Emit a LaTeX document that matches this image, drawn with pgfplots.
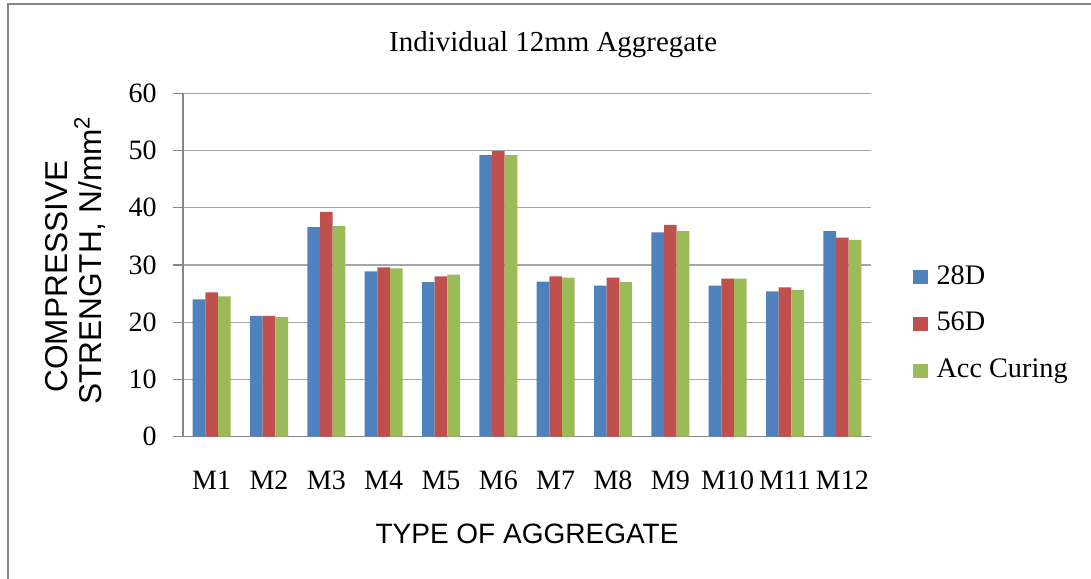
\documentclass[border=0pt]{standalone}
\usepackage{fontspec}
\setmainfont{Liberation Serif}
\setsansfont{Liberation Sans}
\usepackage{pgfplots}
\pgfplotsset{compat=1.18}
\usepackage{pgfplotstable}

\definecolor{ser1}{HTML}{4F81BD}
\definecolor{ser2}{HTML}{C0504D}
\definecolor{ser3}{HTML}{9BBB59}
\definecolor{gridc}{HTML}{A6A6A6}
\definecolor{framec}{HTML}{868686}

% values (N/mm^2)
\pgfplotstableread{
x  d28  d56  acc
1  24.0 25.2 24.5
2  21.1 21.1 20.9
3  36.6 39.3 36.8
4  28.9 29.6 29.4
5  27.0 28.0 28.3
6  49.2 49.9 49.2
7  27.1 28.0 27.8
8  26.4 27.8 27.0
9  35.7 37.0 35.9
10 26.4 27.6 27.6
11 25.4 26.1 25.6
12 35.9 34.8 34.4
}\strength

\begin{document}
\begin{tikzpicture}
\useasboundingbox (0,0) rectangle (818.25pt,433.5pt);
\draw[framec, line width=1.5pt] (6pt,-20pt) -- (6pt,430.5pt) -- (840pt,430.5pt);
\begin{axis}[
    at={(137.25pt,106pt)}, anchor=south west,
    scale only axis, width=516pt, height=257.5pt,
    ybar=0pt, bar width=9.5pt,
    xmin=0.5, xmax=12.5,
    ymin=0, ymax=60,
    xtick={1,...,12},
    xticklabels={M1,M2,M3,M4,M5,M6,M7,M8,M9,M10,M11,M12},
    ytick={0,10,...,60},
    axis x line*=bottom, axis y line*=left,
    axis line style={framec, line width=1pt},
    x axis line style={-}, y axis line style={-},
    tick align=outside,
    major tick length=7.5pt,
    x tick style={draw=none},
    y tick style={framec, line width=1pt},
    ymajorgrids, grid style={gridc, line width=1pt},
    /pgf/number format/assume math mode=true,
    ticklabel style={font=\fontsize{21}{25}\selectfont},
    xticklabel style={anchor=base, yshift=-32pt},
    yticklabel style={anchor=east, inner sep=0pt, xshift=-12pt},
    title={Individual 12mm Aggregate},
    title style={at={(axis description cs:0.538,1.0978)}, anchor=base,
        font=\fontsize{21.7}{25}\selectfont},
    xlabel={TYPE OF AGGREGATE},
    xlabel style={at={(axis description cs:0.5,-0.312)}, anchor=base,
        font=\sffamily\fontsize{21}{25}\selectfont},
    ylabel={COMPRESSIVE\hspace*{24pt}\\STRENGTH, N/mm\textsuperscript{2}},
    ylabel style={at={(axis description cs:-0.156,0.513)}, anchor=center,
        align=center, font=\sffamily\fontsize{23.7}{25.5}\selectfont},
    legend style={at={(axis description cs:1.061,0.328)}, anchor=west,
        draw=none, fill=none, inner sep=0pt,
        nodes={inner sep=0pt, text height=14pt, text depth=4pt, anchor=west},
        row sep=17pt, column sep=6.5pt,
        font=\fontsize{21.2}{25}\selectfont},
    legend cell align=left,
    legend image code/.code={\fill[#1] (0pt,-5.25pt) rectangle (11pt,5.25pt);},
]
\addplot[fill=ser1, draw=none] table[x=x, y=d28] {\strength};
\addplot[fill=ser2, draw=none] table[x=x, y=d56] {\strength};
\addplot[fill=ser3, draw=none] table[x=x, y=acc] {\strength};
\legend{28D,56D,Acc Curing}
\end{axis}
\end{tikzpicture}
\end{document}
